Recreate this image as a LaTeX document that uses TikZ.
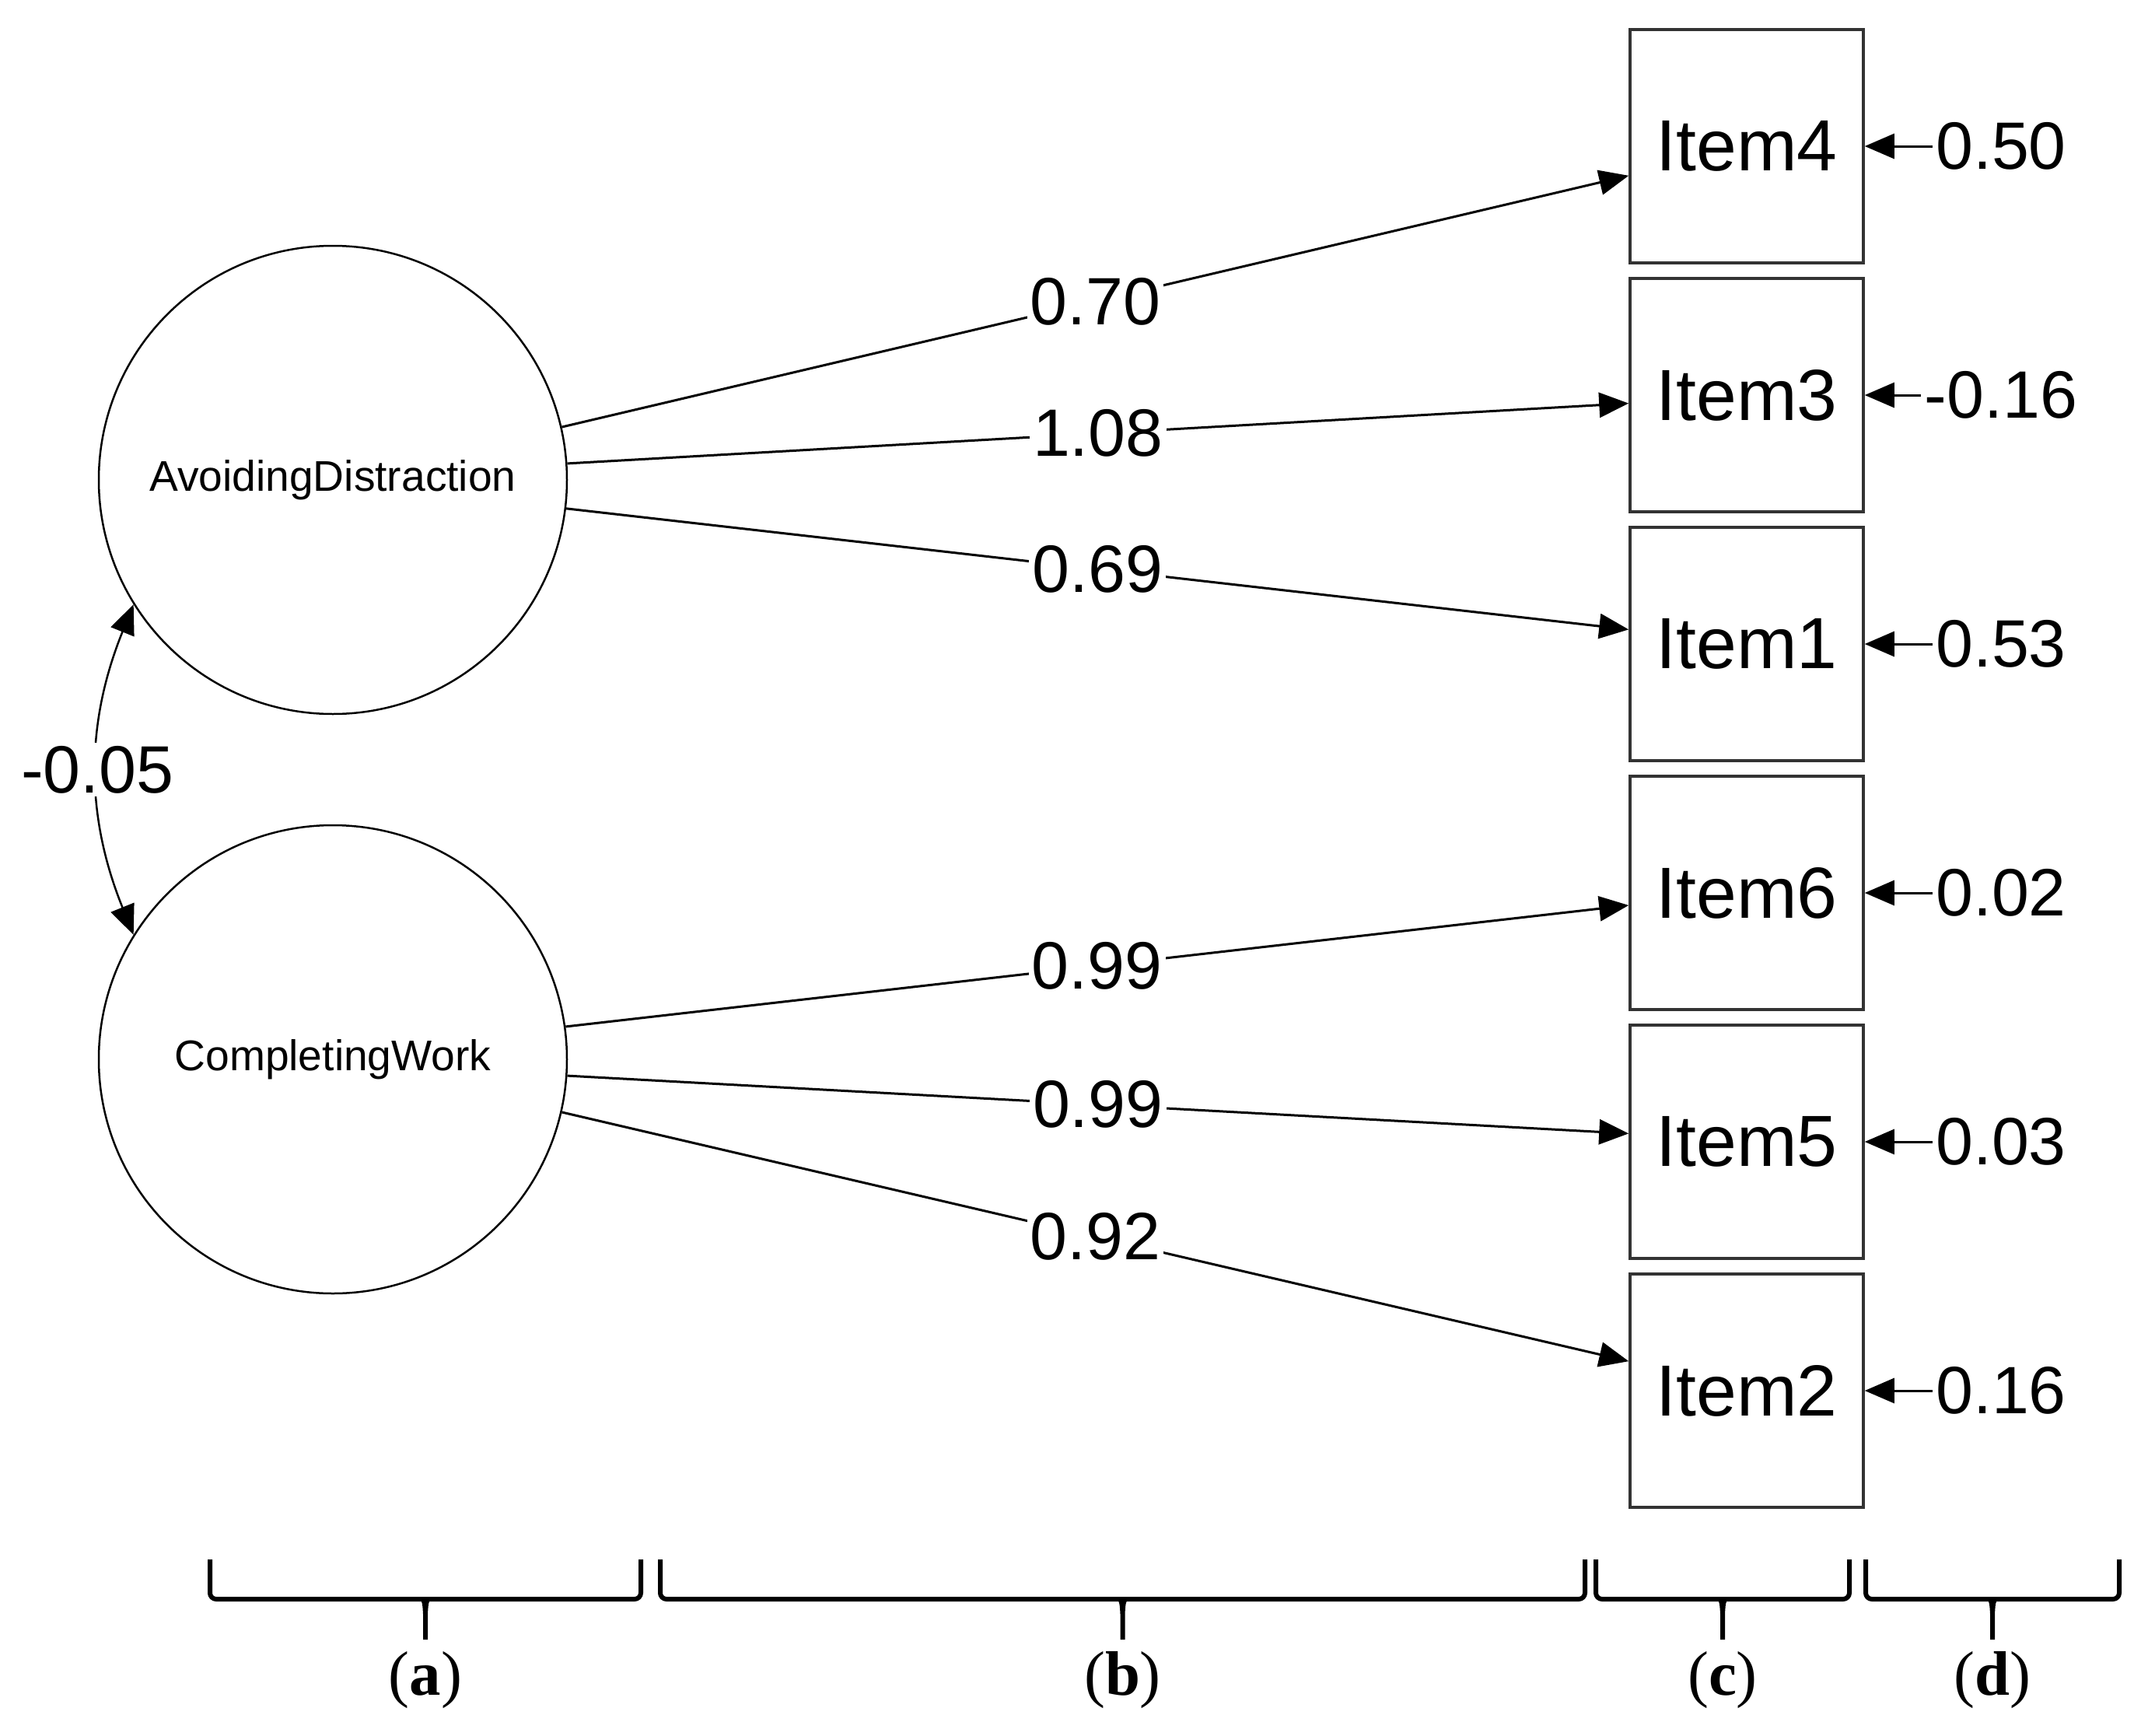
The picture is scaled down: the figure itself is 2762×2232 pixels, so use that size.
\documentclass[tikz,border=0pt]{standalone}
\usepackage{fontspec}
\setmainfont{Liberation Serif}
\newfontfamily\arialfont{Liberation Sans}
\usetikzlibrary{arrows.meta, positioning, calc}

\tikzset{
  latent/.style={circle, draw, line width=0.25mm, minimum size=60.2mm, inner sep=0pt,
                 font=\arialfont\fontsize{15.7}{18}\selectfont},
  manifest/.style={rectangle, draw=black!80, line width=0.35mm, minimum size=30mm, inner sep=0pt,
                   font=\arialfont\fontsize{26.5}{30}\selectfont},
  coef/.style={fill=white, inner sep=0.4mm, font=\arialfont\fontsize{24.5}{28}\selectfont},
  loading/.style={line width=0.3mm, -{Triangle[length=3.8mm, width=3.2mm]}},
  partbrace/.style={line width=0.6mm, rounded corners=0.8mm},
  parttag/.style={font=\fontsize{23}{26}\selectfont}
}

\begin{document}
\begin{tikzpicture}[x=0.1mm, y=-0.1mm]
  \useasboundingbox (0,0) rectangle (2762,2232);

  % latent factors
  \node[latent] (ad) at (428,617) {AvoidingDistraction};
  \node[latent] (cw) at (428,1362) {CompletingWork};

  % items with residual variances
  \foreach \n/\y/\r in {4/188/0.50, 3/508/-0.16, 1/828/0.53, 6/1148/0.02, 5/1468/0.03, 2/1788/0.16} {
    \node[manifest] (item\n) at (2246,\y) {Item\n};
    \node[coef, fill=none] (res\n) at (2573,\y) {\r};
    \draw[loading] (res\n.west) -- (item\n.east);
  }

  % loadings
  \draw[loading] (ad.13) -- node[coef] {0.70} (item4.194);
  \draw[loading] (ad.4) -- node[coef] {1.08} (item3.184);
  \draw[loading] (ad.-7) -- node[coef] {0.69} (item1.173);
  \draw[loading] (cw.8) -- node[coef] {0.99} (item6.186);
  \draw[loading] (cw.-4) -- node[coef] {0.99} (item5.176);
  \draw[loading] (cw.-13) -- node[coef] {0.92} (item2.166);

  % factor covariance
  \draw[line width=0.25mm, {Triangle[length=3.8mm, width=3.2mm]}-{Triangle[length=3.8mm, width=3.2mm]}]
    (ad.212) to[bend right=22] node[coef] {-0.05} (cw.148);

  % braces marking the parts
  \foreach \xa/\xb/\t in {270/824/a, 849/2038/b, 2052/2378/c, 2399/2725/d} {
    \draw[partbrace] (\xa,2005) -- (\xa,2056) -- (\xb,2056) -- (\xb,2005);
    \fill ({(\xa+\xb)/2-12},2053) .. controls ({(\xa+\xb)/2-4},2058) .. ({(\xa+\xb)/2-3},2075)
          -- ({(\xa+\xb)/2-3},2108) -- ({(\xa+\xb)/2+3},2108) -- ({(\xa+\xb)/2+3},2075)
          .. controls ({(\xa+\xb)/2+4},2058) .. ({(\xa+\xb)/2+12},2053) -- cycle;
    \node[parttag] (tag\t) at ({(\xa+\xb)/2},2160) {(\textbf{\t})};
  }
\end{tikzpicture}
\end{document}
